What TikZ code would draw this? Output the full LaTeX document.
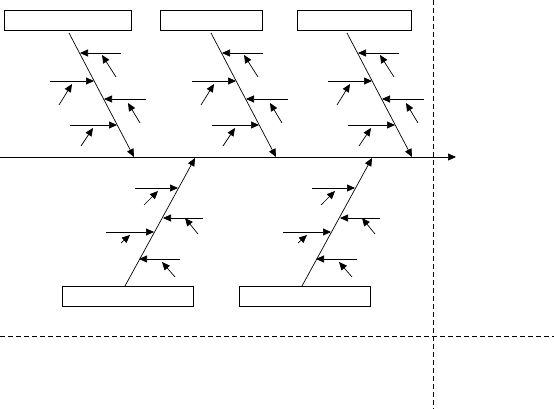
\documentclass[tikz,border=0pt]{standalone}
\usepackage{tikz}
\usetikzlibrary{arrows.meta}

\tikzset{
  catbox/.style={draw,line width=0.8pt,minimum height=20pt,inner sep=0pt},
  guide/.style={line width=0.8pt,dash pattern=on 5pt off 3pt},
}

\begin{document}
\begin{tikzpicture}[x=1pt,y=-1pt,line width=0.7pt,>={Triangle[length=8pt,width=7pt]}]
  \useasboundingbox (0,0) rectangle (554,409);
  % spine
  \coordinate (tail) at (0,157);
  \coordinate (head) at (456,157);
  \draw[->] (tail) -- (head);
  % upper bones
  \foreach \i/\dx/\bx/\bw in {1/0/67.5/127,2/142/211/102,3/278/354/114}{
    \node[catbox,minimum width=\bw pt] (cat\i) at (\bx,20) {};
    \begin{scope}[shift={(\dx,0)}]
      \coordinate (bs\i) at (69,33);
      \coordinate (be\i) at (134,157);
      \draw[->] (bs\i) -- (be\i);
      \draw[->] (121,53) -- (80,53);
      \draw[->] (50,81) -- (94,81);
      \draw[->] (146,99) -- (104,99);
      \draw[->] (70,125) -- (117,125);
      \draw[->] (116,77) -- (102,55);
      \draw[->] (59,105) -- (72,84);
      \draw[->] (140,123) -- (128,103);
      \draw[->] (81,146) -- (93,128);
    \end{scope}
  }
  % lower bones
  \foreach \i/\dx in {4/0,5/177}{
    \node[catbox,minimum width=131pt] (cat\i) at (127.5+\dx,296) {};
    \begin{scope}[shift={(\dx,0)}]
      \coordinate (bs\i) at (125,286);
      \coordinate (be\i) at (195,158);
      \draw[->] (bs\i) -- (be\i);
      \draw[->] (135,188) -- (178,188);
      \draw[->] (203,218) -- (163,218);
      \draw[->] (106,232) -- (154,232);
      \draw[->] (180,259) -- (139,259);
      \draw[->] (144,205) -- (158,191);
      \draw[->] (198,234) -- (185,218);
      \draw[->] (121,243) -- (130,235);
      \draw[->] (175,277) -- (162,262);
    \end{scope}
  }
  % dashed guides
  \draw[guide] (433,0) -- (433,409);
  \draw[guide] (0,336) -- (554,336);
\end{tikzpicture}
\end{document}
